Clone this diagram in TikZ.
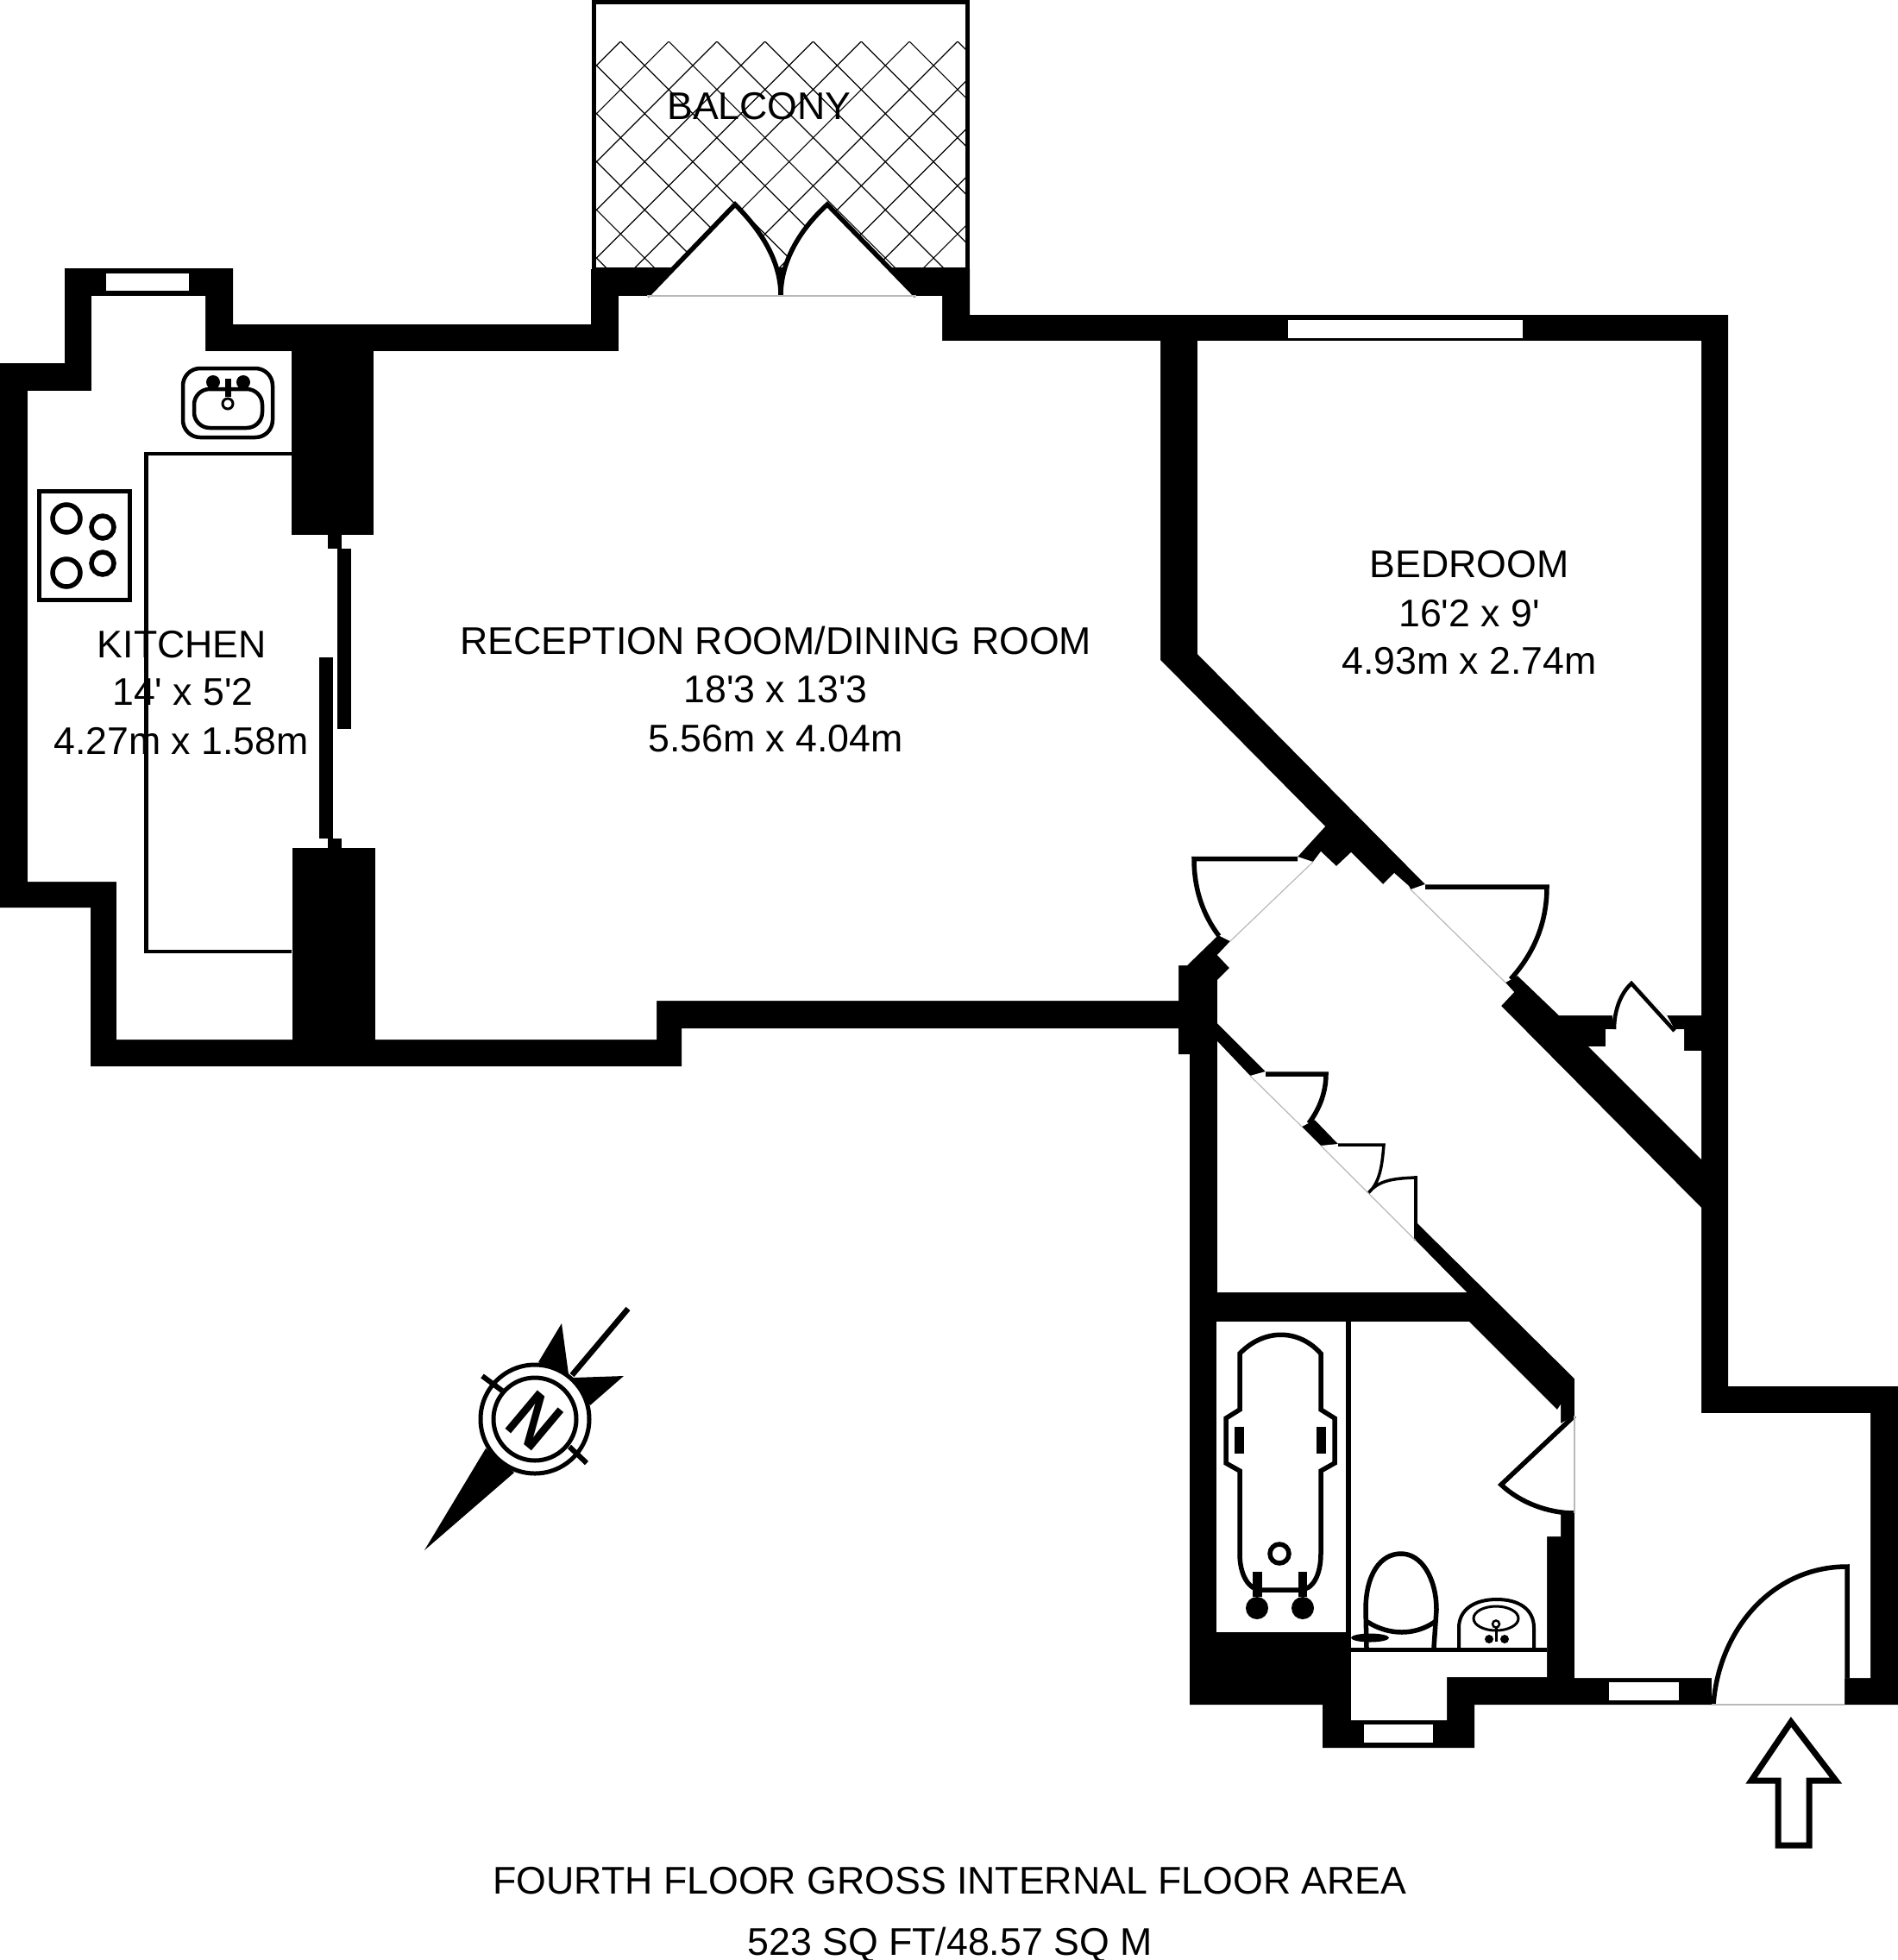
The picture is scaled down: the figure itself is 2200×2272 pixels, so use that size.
\documentclass[tikz,border=0pt]{standalone}
\usepackage{fontspec}
\setmainfont{Liberation Sans}
\newcommand{\ft}{\textquotesingle}
\tikzset{
	wallfill/.style={fill=black},
	roomfill/.style={fill=white},
	leafline/.style={draw=black,line width=.055cm,line join=miter},
	thinleaf/.style={draw=black,line width=.035cm},
	hairline/.style={draw=gray!55,line width=.012cm},
	hatchline/.style={draw=black,line width=.012cm},
	disc/.style={fill=black},
	roomname/.style={anchor=base,inner sep=0pt,font=\fontsize{12.7}{15}\selectfont}
}
\begin{document}
\begin{tikzpicture}[x=.01cm,y=-.01cm]
	\useasboundingbox (0,0) rectangle (2200,2272);
	% balcony
	\draw[line width=.05cm] (688.5,2.5) rectangle (1121.5,312);
	\begin{scope}
		\clip (691,48) rectangle (1119,312);
		\foreach \k in {-6,...,14} {
			\draw[hatchline] ({719.3+55.8*\k},48) -- ++(300,300);
			\draw[hatchline] ({719.3+55.8*\k},48) -- ++(-300,300);
		}
	\end{scope}
	% walls, then the rooms cut out of them
	\fill[wallfill] (0,421) -- (75,421) -- (75,311) -- (270,311) -- (270,376) -- (685,376) -- (685,312) -- (1124,312) -- (1124,365) -- (2003,365) -- (2003,1607) -- (2200,1607) -- (2200,1976) -- (1709,1976) -- (1709,2026) -- (1533,2026) -- (1533,1976) -- (1379,1976) -- (1379,1222) -- (1366,1222) -- (1366,1192) -- (790,1192) -- (790,1236) -- (105,1236) -- (105,1052) -- (0,1052) -- cycle;
	\fill[roomfill] (32,453) -- (106,453) -- (106,343) -- (238,343) -- (238,407) -- (717,407) -- (717,343) -- (1092,343) -- (1092,395) -- (1345,395) -- (1345,765) -- (1536,958) -- (1504,993) -- (1522,999) -- (1426,1091) -- (1412,1084) -- (1376,1119) -- (1366,1119) -- (1366,1160) -- (761,1160) -- (761,1205) -- (135,1205) -- (135,1022) -- (32,1022) -- cycle;
	\fill[roomfill] (1388,395) -- (1972,395) -- (1972,1177) -- (1932,1177) -- (1891,1137) -- (1869,1177) -- (1807,1177) -- (1759,1131) -- (1745,1139) -- (1635,1031) -- (1652,1025) -- (1388,758) -- cycle;
	\fill[roomfill] (1869,1177) -- (1891,1137) -- (1932,1177) -- (1941,1193) -- (1952,1193) -- (1952,1218) -- (1972,1218) -- (1972,1344) -- (1841,1213) -- (1861,1213) -- (1861,1193) -- (1871,1193) -- cycle;
	\fill[roomfill] (1522,999) -- (1531,987) -- (1549,1004) -- (1566,988) -- (1603,1025) -- (1616,1012) -- (1633,1027) -- (1635,1031) -- (1745,1139) -- (1755,1150) -- (1740,1166) -- (1972,1400) -- (1972,1638) -- (2168,1638) -- (2168,1945) -- (2138,1945) -- (2138,1976) -- (1984,1976) -- (1984,1945) -- (1825,1945) -- (1825,1598) -- (1643,1418) -- (1641,1438) -- (1531,1328) -- (1551,1326) -- (1524,1298) -- (1509,1306) -- (1449,1247) -- (1467,1242) -- (1411,1186) -- (1411,1136) -- (1425,1122) -- (1411,1107) -- (1426,1091) -- cycle;
	\fill[roomfill] (1411,1207) -- (1449,1247) -- (1509,1306) -- (1531,1328) -- (1641,1438) -- (1700,1498) -- (1411,1498) -- cycle;
	\fill[roomfill] (1410,1532) rectangle (1560,1892);
	\fill[roomfill] (1566,1532) -- (1703,1532) -- (1805,1634) -- (1809,1628) -- (1809,1650) -- (1825,1641) -- (1825,1754) -- (1809,1754) -- (1809,1781) -- (1793,1781) -- (1793,1944) -- (1677,1944) -- (1677,1994) -- (1566,1994) -- cycle;
	% chimney breast and sliding doors
	\fill[wallfill] (338,400) rectangle (433,620);
	\fill[wallfill] (380,620) rectangle (396,636);
	\fill[wallfill] (391,636) rectangle (407,845);
	\fill[wallfill] (370,762) rectangle (386,972);
	\fill[wallfill] (380,972) rectangle (396,983);
	\fill[wallfill] (339,983) rectangle (435,1208);
	% windows
	\fill[roomfill] (123,317) rectangle (219,337);
	\fill[roomfill] (1493,371) rectangle (1765,392);
	\fill[roomfill] (1581,1999) rectangle (1661,2020);
	\fill[roomfill] (1865,1950) rectangle (1946,1971);
	% doors
	\path[roomfill,leafline] (750,343) -- (852,237) .. controls (885,270) and (905,305) .. (905,343) .. controls (905,305) and (925,268) .. (959,237) -- (1062,343);
	\draw[hairline] (750,343) -- (1062,343);
	\draw[leafline] (1504,995.5) -- (1384,995.5) .. controls (1384,1030) and (1394,1060) .. (1413,1085);
	\draw[hairline] (1522,999) -- (1426,1091);
	\draw[leafline] (1652,1028) -- (1793,1028) .. controls (1793,1070) and (1778,1105) .. (1751,1135);
	\draw[hairline] (1635,1031) -- (1745,1139);
	\draw[leafline,line width=.045cm] (1941,1195) -- (1891,1140) .. controls (1878,1152) and (1871,1172) .. (1871,1193);
	\draw[leafline] (1467,1245) -- (1537,1245) .. controls (1537,1265) and (1530,1285) .. (1517,1302);
	\draw[hairline] (1449,1247) -- (1509,1306);
	\draw[thinleaf] (1551,1327) -- (1604,1327) .. controls (1602,1350) and (1600,1370) .. (1586,1383) .. controls (1598,1368) and (1615,1366) .. (1641,1365);
	\draw[thinleaf] (1641,1363) -- (1641,1438);
	\draw[hairline] (1531,1328) -- (1641,1438);
	\draw[leafline] (1825,1641) -- (1740,1721) .. controls (1762,1742) and (1795,1754) .. (1825,1754);
	\draw[hairline] (1825,1641) -- (1825,1754);
	\draw[leafline] (1986,1976) .. controls (1992,1891) and (2053,1816) .. (2141,1816) -- (2141,1945);
	\draw[hairline] (1984,1976) -- (2138,1976);
	% sink and hob
	\draw[line width=.045cm,rounded corners=.2cm] (212,427) rectangle (316,507);
	\draw[line width=.045cm,rounded corners=.18cm] (225,451) rectangle (304,496);
	\fill[disc] (247,443) circle (8);
	\fill[disc] (282,443) circle (8);
	\fill[disc] (260.5,439) rectangle (267.5,460);
	\draw[line width=.03cm,fill=white] (264,468) circle (6);
	\draw[leafline] (45.5,569.5) rectangle (150.5,695.5);
	\draw[leafline] (77,601) circle (16);
	\draw[leafline] (119,611) circle (13);
	\draw[leafline] (77,664) circle (16);
	\draw[leafline] (119,653) circle (13);
	\draw[line width=.048cm] (338,526) -- (169.5,526) -- (169.5,1103) -- (338,1103);
	% bath
	\draw[leafline] (1437,1569) .. controls (1465,1540) and (1505,1540) .. (1531,1569) -- (1531,1634) -- (1547,1644) -- (1547,1696) -- (1531,1705) -- (1531,1801) .. controls (1531,1825) and (1522,1843) .. (1507,1843) -- (1462,1843) .. controls (1447,1843) and (1437,1825) .. (1437,1801) -- (1437,1705) -- (1421,1696) -- (1421,1644) -- (1437,1634) -- cycle;
	\fill[disc] (1431,1654) rectangle (1442,1685);
	\fill[disc] (1526,1654) rectangle (1537,1685);
	\draw[leafline] (1483,1801) circle (11);
	\fill[disc] (1452,1822) rectangle (1463,1851);
	\fill[disc] (1505,1822) rectangle (1515,1851);
	\fill[disc] (1457,1864) circle (13);
	\fill[disc] (1510,1864) circle (13);
	% toilet and basin
	\draw[leafline] (1584,1910) -- (1583,1866) .. controls (1583,1825) and (1600,1801) .. (1624,1801) .. controls (1648,1801) and (1665,1830) .. (1665,1866) -- (1662,1910);
	\draw[leafline] (1585,1880) .. controls (1610,1896) and (1640,1896) .. (1663,1880);
	\fill[disc] (1588,1898.5) ellipse (22 and 5);
	\draw[line width=.05cm] (1566,1912.5) -- (1793,1912.5);
	\draw[line width=.04cm] (1691,1910) -- (1691,1887) .. controls (1691,1865) and (1710,1854) .. (1735,1854) .. controls (1760,1854) and (1778,1865) .. (1778,1887) -- (1778,1910);
	\draw[line width=.03cm] (1734,1876) ellipse (26 and 14);
	\fill[disc] (1732.5,1885) rectangle (1735.5,1903);
	\draw[line width=.025cm,fill=white] (1734,1882.5) circle (4);
	\fill[disc] (1726,1900) circle (5);
	\fill[disc] (1744,1900) circle (5);
	% entrance arrow
	\draw[line width=.07cm,miter limit=10] (2076,1996) -- (2128,2064) -- (2097,2064) -- (2097,2139) -- (2061,2139) -- (2061,2064) -- (2030,2064) -- cycle;
	% compass
	\fill[disc] (492,1797) -- (563,1679) -- (596,1707) -- cycle;
	\fill[disc] (624,1579) -- (651,1534) -- (659,1593) -- cycle;
	\fill[disc] (665,1597) -- (723,1595) -- (684,1629) -- cycle;
	\draw[line width=.065cm] (728,1517) -- (663,1594);
	\draw[line width=.05cm,fill=white] (620,1645) circle (63);
	\draw[line width=.05cm] (620,1645) circle (48);
	\draw[line width=.06cm] (559,1595) -- (582,1612);
	\draw[line width=.06cm] (660,1677) -- (680,1696);
	\node[rotate=-40,inner sep=0pt,font=\fontsize{24}{24}\selectfont\bfseries] (northmark) at (620,1647) {\scalebox{.8}[1]{N}};
	% labels
	\node[roomname] (balconyname) at (880,138) {BALCONY};
	\node[roomname] (kitchenname) at (211,762) {KITCHEN};
	\node[roomname] (kitchenfeet) at (212,817) {14\ft{} x 5\ft2};
	\node[roomname] (kitchenmetres) at (210,874) {4.27m x 1.58m};
	\node[roomname] (receptionname) at (899,758) {RECEPTION ROOM/DINING ROOM};
	\node[roomname] (receptionfeet) at (899,814) {18\ft3 x 13\ft3};
	\node[roomname] (receptionmetres) at (899,871) {5.56m x 4.04m};
	\node[roomname] (bedroomname) at (1703,669) {BEDROOM};
	\node[roomname] (bedroomfeet) at (1703,726) {16\ft2 x 9\ft};
	\node[roomname] (bedroommetres) at (1703,781) {4.93m x 2.74m};
	\node[roomname] (floorname) at (1101,2195) {FOURTH FLOOR GROSS INTERNAL FLOOR AREA};
	\node[roomname] (floorarea) at (1101,2266) {523 SQ FT/48.57 SQ M};
\end{tikzpicture}
\end{document}
